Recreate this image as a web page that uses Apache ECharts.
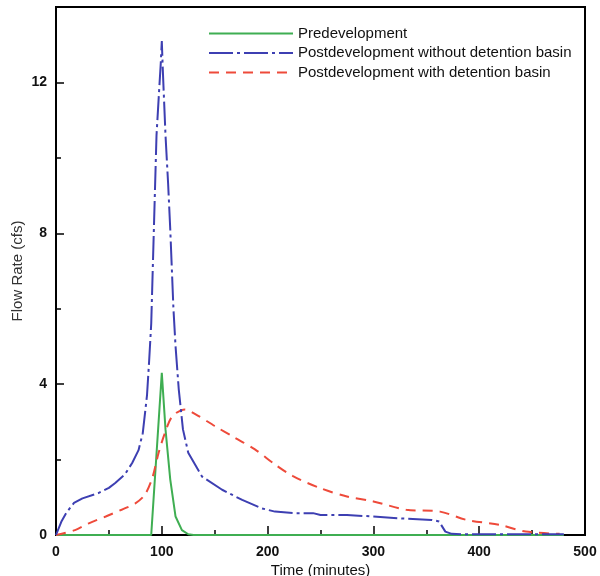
<!DOCTYPE html>
<html>
<head>
<meta charset="utf-8">
<script src="https://cdn.jsdelivr.net/npm/echarts@6/dist/echarts.min.js"></script>
<style>
html,body{margin:0;padding:0;background:#fff;}
#chart{width:600px;height:576px;}
</style>
</head>
<body>
<div id="chart"></div>
<script>
// Tick labels
var xTicks = [0, 100, 200, 300, 400, 500];
var yTicks = [0, 4, 8, 12];

// Predevelopment
var preTime = [0, 90, 100, 103.5, 108, 113, 119, 125, 130, 480];
var preFlow = [0, 0, 4.3, 2.8, 1.47, 0.49, 0.13, 0.02, 0, 0];

// Postdevelopment without detention basin
var postNoTime = [0, 5, 10, 17, 25, 40, 50, 56, 65, 72, 78, 82, 86, 88, 90, 92.5, 95, 97.5, 99, 100, 101, 103.5, 106, 108, 111, 113, 116, 120, 125, 138, 157, 176, 194, 207, 224, 243, 250, 275, 300, 325, 355, 362, 368, 374, 385, 480];
var postNoFlow = [0, 0.35, 0.6, 0.85, 0.97, 1.11, 1.25, 1.38, 1.6, 1.91, 2.25, 2.7, 3.7, 4.6, 5.6, 8.1, 10.6, 11.8, 12.5, 13.1, 12.3, 10.6, 9.3, 8.1, 6.0, 5.0, 3.87, 2.8, 2.18, 1.55, 1.2, 0.93, 0.71, 0.62, 0.58, 0.58, 0.53, 0.53, 0.49, 0.44, 0.4, 0.36, 0.09, 0.03, 0.02, 0.02];

// Postdevelopment with detention basin
var postDetTime = [0, 18, 31, 47, 62, 75, 84, 91, 97, 103, 110, 122, 132, 150, 169, 188, 207, 224, 250, 275, 300, 331, 363, 388, 419, 444, 476];
var postDetFlow = [0, 0.13, 0.31, 0.49, 0.67, 0.84, 1.07, 1.51, 2.18, 2.71, 3.15, 3.33, 3.2, 2.89, 2.58, 2.27, 1.87, 1.56, 1.24, 1.02, 0.89, 0.67, 0.62, 0.4, 0.27, 0.09, 0.03];

function pairs(t, v) { return t.map(function (x, i) { return [x, v[i]]; }); }

var chart = echarts.init(document.getElementById('chart'));
var font = 'Liberation Sans, Arial, sans-serif';
chart.setOption({
  animation: false,
  backgroundColor: '#fff',
  grid: { left: 56, right: 15, top: 7, bottom: 41, outerBoundsMode: 'none', containLabel: false,
    show: true, borderColor: '#000', borderWidth: 2, backgroundColor: 'transparent' },
  legend: {
    orient: 'vertical', left: 208, top: 26, padding: 0, itemWidth: 84, itemHeight: 14, itemGap: 4.5,
    itemStyle: { opacity: 0 },
    textStyle: { fontFamily: font, fontSize: 15, lineHeight: 14, color: '#111' },
    data: ['Predevelopment', 'Postdevelopment without detention basin', 'Postdevelopment with detention basin']
  },
  xAxis: {
    type: 'value', min: xTicks[0], max: xTicks[xTicks.length - 1], interval: 100,
    name: 'Time (minutes)', nameLocation: 'middle', nameGap: 28, nameMoveOverlap: false,
    nameTextStyle: { fontFamily: font, fontSize: 15, color: '#111' },
    axisLine: { show: true, lineStyle: { color: '#000', width: 2 } },
    axisTick: { show: true, inside: true, length: 9, lineStyle: { color: '#000', width: 1.5 } },
    minorTick: { show: true, splitNumber: 2, length: 5, lineStyle: { color: '#000', width: 1.5 } },
    axisLabel: { fontFamily: font, fontSize: 14, fontWeight: 'bold', color: '#111', margin: 10 },
    splitLine: { show: false }
  },
  yAxis: [{
    type: 'value', min: 0, max: 14, interval: 4,
    name: 'Flow Rate (cfs)', nameLocation: 'middle', nameGap: 31, nameMoveOverlap: false,
    nameTextStyle: { fontFamily: font, fontSize: 15, color: '#333' },
    axisLine: { show: true, lineStyle: { color: '#000', width: 2 } },
    axisTick: { show: true, inside: true, length: 8, lineStyle: { color: '#000', width: 1.5 } },
    axisLabel: { fontFamily: font, fontSize: 14, fontWeight: 'bold', color: '#111', margin: 9,
      formatter: function (v) { return yTicks.indexOf(v) >= 0 ? String(v) : ''; } },
    splitLine: { show: false }
  }, {
    type: 'value', min: 0, max: 14, interval: 2, position: 'left',
    axisLine: { show: false },
    axisTick: { show: true, inside: true, length: 5, lineStyle: { color: '#000', width: 1.5 } },
    axisLabel: { show: false },
    splitLine: { show: false }
  }],
  series: [{
    name: 'Predevelopment', type: 'line', data: pairs(preTime, preFlow),
    symbol: 'none', z: 2, color: '#3fae52',
    lineStyle: { color: '#3fae52', width: 2, type: 'solid' }
  }, {
    name: 'Postdevelopment with detention basin', type: 'line', data: pairs(postDetTime, postDetFlow),
    symbol: 'none', z: 3, color: '#ee4a3a', smooth: 0.3,
    lineStyle: { color: '#ee4a3a', width: 2, type: [10, 7] }
  }, {
    name: 'Postdevelopment without detention basin', type: 'line', data: pairs(postNoTime, postNoFlow),
    symbol: 'none', z: 4, color: '#3d3fb2',
    lineStyle: { color: '#3d3fb2', width: 2, type: [24, 4, 3, 4] }
  }]
});
</script>
</body>
</html>
